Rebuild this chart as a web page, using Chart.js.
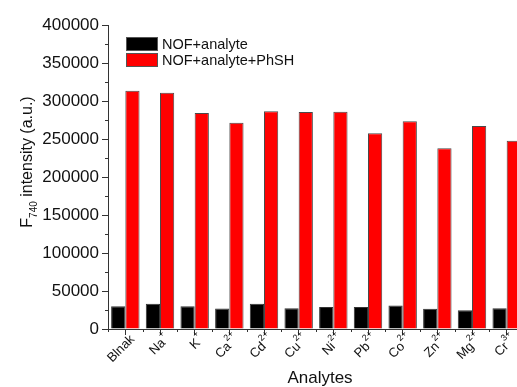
<!DOCTYPE html>
<html>
<head>
<meta charset="utf-8">
<script src="https://cdn.jsdelivr.net/npm/chart.js@4/dist/chart.umd.min.js"></script>
<style>
  html, body { margin: 0; padding: 0; background: #fff; overflow: hidden; }
  #wrap { position: relative; width: 524px; height: 387px; }
</style>
</head>
<body>
<div id="wrap"><canvas id="c"></canvas></div>
<script>
// Analyte names: base text plus a superscript charge
const analyteBase = ['Blnak', 'Na', 'K', 'Ca', 'Cd', 'Cu', 'Ni', 'Pb', 'Co', 'Zn', 'Mg', 'Cr'];
const analyteCharge = ['', '+', '+', '2+', '2+', '2+', '2+', '2+', '2+', '2+', '2+', '3+'];
const categories = analyteBase.map((b, i) => b + analyteCharge[i]);

// F740 intensity (a.u.)
const nofAnalyte = [30000, 33100, 30000, 27000, 33100, 27300, 28900, 28900, 31000, 26700, 24600, 27300];
const nofAnalytePhSH = [313500, 310900, 284200, 271400, 286400, 285500, 285900, 257500, 273300, 237800, 267100, 247800];

const seriesLabels = ['NOF+analyte', 'NOF+analyte+PhSH'];
const yTicks = [0, 50000, 100000, 150000, 200000, 250000, 300000, 350000, 400000];

const FONT = '"Liberation Sans", Arial, Helvetica, sans-serif';
const INK = '#111';
const AXIS = '#333';

const decorations = {
  id: 'decorations',
  afterDraw(chart) {
    const ctx = chart.ctx;
    const area = chart.chartArea;
    const xs = chart.scales.x;
    const ys = chart.scales.y;
    ctx.save();

    // minor ticks on the y axis (halfway between labelled ticks)
    ctx.strokeStyle = AXIS;
    ctx.lineWidth = 1;
    for (let i = 0; i < yTicks.length - 1; i++) {
      const v = (yTicks[i] + yTicks[i + 1]) / 2;
      const py = Math.round(ys.getPixelForValue(v)) + 0.5;
      ctx.beginPath();
      ctx.moveTo(area.left, py);
      ctx.lineTo(area.left - 3, py);
      ctx.stroke();
    }
    // minor ticks on the x axis at category boundaries
    for (let i = 0; i <= categories.length; i++) {
      const px = Math.round(xs.getPixelForValue(i - 0.5)) + 0.5;
      ctx.beginPath();
      ctx.moveTo(px, area.bottom);
      ctx.lineTo(px, area.bottom + 3);
      ctx.stroke();
    }

    // rotated category labels with superscript charges
    ctx.fillStyle = INK;
    ctx.textBaseline = 'alphabetic';
    categories.forEach((_, i) => {
      const px = xs.getPixelForValue(i);
      const base = analyteBase[i];
      const sup = analyteCharge[i];
      ctx.font = '13px ' + FONT;
      const wb = ctx.measureText(base).width;
      ctx.font = '9px ' + FONT;
      const ws = sup ? ctx.measureText(sup).width : 0;
      ctx.save();
      ctx.translate(px + 7, area.bottom + 8);
      ctx.rotate(-Math.PI / 4);
      const start = -(wb + ws);
      ctx.font = '13px ' + FONT;
      ctx.fillText(base, start, 4);
      if (sup) {
        ctx.font = '9px ' + FONT;
        ctx.fillText(sup, start + wb + 0.5, -3.5);
      }
      ctx.restore();
    });

    // x axis title
    ctx.font = '17px ' + FONT;
    ctx.textAlign = 'center';
    ctx.fillText('Analytes', area.left + 212, 383);

    // y axis title: F with subscript 740
    ctx.save();
    ctx.translate(32, (area.top + area.bottom) / 2 - 15);
    ctx.rotate(-Math.PI / 2);
    ctx.textAlign = 'left';
    ctx.font = '16px ' + FONT;
    const wF = ctx.measureText('F').width;
    const rest = ' intensity (a.u.)';
    const wR = ctx.measureText(rest).width;
    ctx.font = '10px ' + FONT;
    const wSub = ctx.measureText('740').width;
    const total = wF + wSub + wR;
    let x0 = -total / 2;
    ctx.font = '16px ' + FONT;
    ctx.fillText('F', x0, 0);
    ctx.font = '10px ' + FONT;
    ctx.fillText('740', x0 + wF, 5);
    ctx.font = '16px ' + FONT;
    ctx.fillText(rest, x0 + wF + wSub, 0);
    ctx.restore();

    // legend
    const lx = area.left + 18;
    const ly = area.top + 12;
    chart.data.datasets.forEach((ds, i) => {
      const by = ly + i * 16;
      ctx.fillStyle = ds.backgroundColor;
      ctx.fillRect(lx, by, 32, 14);
      ctx.strokeStyle = '#555';
      ctx.strokeRect(lx + 0.5, by + 0.5, 31, 13);
      ctx.fillStyle = INK;
      ctx.font = '14.5px ' + FONT;
      ctx.textAlign = 'left';
      ctx.textBaseline = 'middle';
      ctx.fillText(ds.label, lx + 36, by + 7.5);
    });

    ctx.restore();
  }
};

new Chart(document.getElementById('c'), {
  type: 'bar',
  data: {
    labels: categories,
    datasets: [
      {
        label: seriesLabels[0],
        data: nofAnalyte,
        backgroundColor: '#000000',
        borderColor: '#333333',
        borderWidth: 1,
        categoryPercentage: 0.82,
        barPercentage: 1.0
      },
      {
        label: seriesLabels[1],
        data: nofAnalytePhSH,
        backgroundColor: '#ff0000',
        borderColor: '#4a4a4a',
        borderWidth: 1,
        categoryPercentage: 0.82,
        barPercentage: 1.0
      }
    ]
  },
  options: {
    responsive: true,
    maintainAspectRatio: false,
    animation: false,
    devicePixelRatio: 1,
    layout: { padding: { top: 25, left: 0, right: 0, bottom: 0 } },
    plugins: {
      legend: { display: false },
      tooltip: { enabled: false }
    },
    scales: {
      x: {
        type: 'category',
        offset: true,
        grid: { display: true, drawOnChartArea: false, offset: false, tickLength: 6, color: AXIS, lineWidth: 1 },
        border: { display: true, color: AXIS, width: 1 },
        ticks: { display: false },
        afterFit(scale) { scale.height = 58; }
      },
      y: {
        min: 0,
        max: 400000,
        grid: { display: true, drawOnChartArea: false, tickLength: 6, color: AXIS, lineWidth: 1 },
        border: { display: true, color: AXIS, width: 1 },
        ticks: {
          stepSize: 50000,
          padding: 3,
          color: INK,
          font: { family: FONT, size: 17 },
          callback: (v) => String(v)
        },
        afterFit(scale) { scale.width = 108; }
      }
    }
  },
  plugins: [decorations]
});
</script>
</body>
</html>
